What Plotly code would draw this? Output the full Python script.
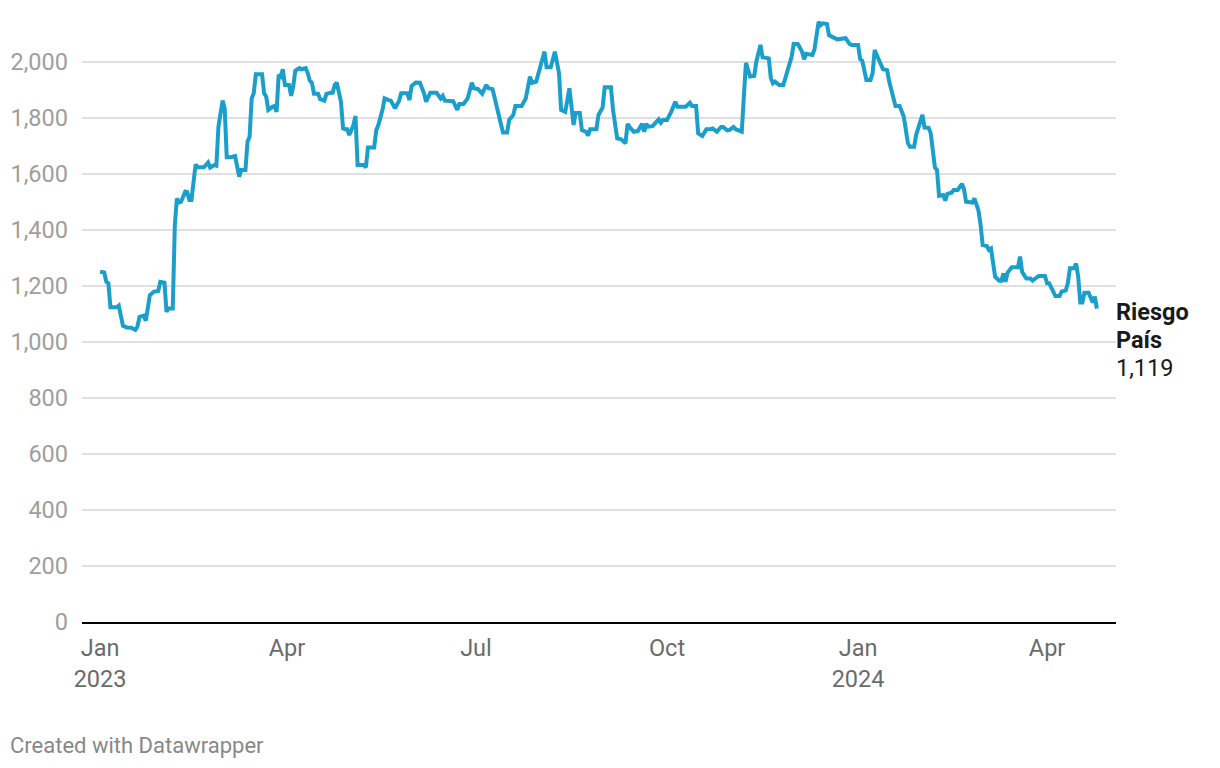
import pandas as pd
import plotly.graph_objects as go

# ---- data (days since 2023-01-01, index value) ----
start_date = "2023-01-01"
day_offsets = [
    0, 2, 3, 4, 5, 8, 9, 11, 13, 15, 17, 18, 19, 21, 22, 24, 26, 28, 29, 31,
    32, 33, 35, 36, 37, 38, 39, 41, 42, 43, 44, 46, 47, 50, 52, 53, 55, 56, 57, 59,
    60, 61, 63, 65, 67, 68, 70, 71, 72, 73, 74, 75, 78, 79, 80, 81, 83, 84, 85, 86,
    87, 88, 89, 91, 92, 93, 94, 96, 97, 99, 100, 101, 102, 103, 105, 106, 108, 109, 111, 112,
    113, 114, 116, 117, 118, 119, 120, 122, 123, 124, 127, 128, 129, 132, 133, 134, 136, 137, 139, 140,
    142, 144, 145, 148, 149, 150, 152, 154, 156, 157, 159, 162, 164, 165, 166, 170, 172, 173, 175, 177,
    179, 180, 182, 184, 186, 187, 189, 191, 193, 194, 196, 197, 199, 200, 203, 205, 207, 208, 210, 211,
    213, 214, 215, 217, 219, 221, 222, 224, 226, 228, 229, 231, 232, 234, 235, 236, 239, 240, 242, 243,
    246, 247, 249, 251, 253, 254, 255, 257, 259, 261, 262, 263, 264, 266, 269, 270, 271, 273, 275, 277,
    278, 282, 284, 285, 287, 288, 290, 292, 294, 295, 297, 299, 300, 302, 303, 305, 306, 309, 310, 311,
    313, 315, 316, 318, 319, 321, 322, 323, 324, 325, 327, 329, 330, 332, 333, 334, 336, 338, 339, 340,
    343, 344, 345, 346, 347, 348, 350, 351, 353, 355, 359, 361, 362, 365, 366, 367, 369, 371, 372, 373,
    374, 375, 377, 379, 380, 383, 385, 387, 389, 390, 392, 393, 394, 396, 397, 399, 400, 402, 403, 404,
    406, 407, 408, 410, 411, 413, 415, 416, 417, 420, 421, 422, 423, 424, 425, 427, 428, 429, 430, 431,
    433, 434, 435, 436, 437, 439, 442, 443, 444, 446, 448, 449, 452, 455, 456, 457, 459, 460, 462, 463,
    465, 466, 467, 469, 470, 471, 472, 473, 474, 476, 478, 479, 480,
]
riesgo_pais = [
    1251, 1248, 1215, 1210, 1124, 1124, 1130, 1058, 1052, 1051, 1043, 1055, 1090, 1094, 1076, 1168, 1180, 1182, 1215, 1212,
    1108, 1120, 1120, 1418, 1513, 1498, 1501, 1537, 1535, 1507, 1507, 1634, 1624, 1624, 1641, 1623, 1632, 1630, 1769, 1862,
    1835, 1660, 1660, 1664, 1591, 1614, 1614, 1715, 1733, 1870, 1888, 1956, 1956, 1888, 1876, 1829, 1840, 1843, 1822, 1954,
    1948, 1974, 1918, 1918, 1879, 1912, 1969, 1978, 1974, 1978, 1960, 1933, 1926, 1887, 1887, 1867, 1862, 1886, 1890, 1890,
    1918, 1926, 1858, 1763, 1760, 1760, 1739, 1775, 1807, 1632, 1632, 1624, 1695, 1695, 1757, 1775, 1829, 1870, 1864, 1862,
    1835, 1862, 1888, 1888, 1864, 1914, 1927, 1926, 1888, 1858, 1890, 1890, 1870, 1879, 1862, 1860, 1829, 1850, 1850, 1870,
    1926, 1906, 1903, 1887, 1918, 1906, 1903, 1846, 1775, 1748, 1748, 1793, 1811, 1843, 1843, 1870, 1948, 1926, 1930, 1960,
    2017, 2037, 1981, 1981, 2037, 1960, 1829, 1822, 1906, 1775, 1818, 1818, 1757, 1751, 1737, 1760, 1760, 1811, 1838, 1910,
    1910, 1829, 1727, 1724, 1710, 1779, 1768, 1751, 1754, 1779, 1751, 1779, 1769, 1771, 1795, 1783, 1793, 1793, 1822, 1858,
    1840, 1840, 1854, 1843, 1843, 1745, 1736, 1760, 1761, 1763, 1751, 1768, 1768, 1756, 1757, 1768, 1760, 1751, 1876, 1997,
    1948, 1950, 2001, 2061, 2017, 2013, 2013, 1942, 1924, 1930, 1918, 1918, 1942, 2001, 2019, 2064, 2064, 2037, 2010, 2029,
    2025, 2045, 2090, 2144, 2132, 2138, 2136, 2096, 2088, 2081, 2085, 2064, 2061, 2061, 2010, 2005, 1936, 1936, 1960, 2043,
    2025, 2010, 1974, 1971, 1930, 1843, 1843, 1805, 1710, 1697, 1697, 1741, 1767, 1811, 1766, 1765, 1745, 1623, 1615, 1522,
    1525, 1505, 1529, 1533, 1543, 1543, 1565, 1546, 1501, 1498, 1513, 1489, 1469, 1418, 1346, 1343, 1329, 1334, 1280, 1233,
    1219, 1219, 1245, 1215, 1248, 1267, 1267, 1305, 1251, 1227, 1227, 1219, 1236, 1236, 1210, 1210, 1180, 1164, 1164, 1180,
    1184, 1210, 1263, 1263, 1280, 1233, 1141, 1141, 1176, 1176, 1141, 1162, 1119,
]

x_tick_dates = ["2023-01-01", "2023-04-01", "2023-07-01", "2023-10-01", "2024-01-01", "2024-04-01"]
x_tick_labels = ["Jan<br>2023", "Apr", "Jul", "Oct", "Jan<br>2024", "Apr"]
y_tick_values = [0, 200, 400, 600, 800, 1000, 1200, 1400, 1600, 1800, 2000]

series_name_lines = ["Riesgo", "País"]
last_value_label = f"{riesgo_pais[-1]:,}"

# ---- figure ----
dates = pd.Timestamp(start_date) + pd.to_timedelta(day_offsets, unit="D")

W, H = 1220, 768
ML, MR, MT, MB = 82, 104, 6, 146
plot_w = W - ML - MR
plot_h = H - MT - MB
Y_MAX = 2200

def px_to_paper_y(py):
    return (H - MB - py) / plot_h

x_start = pd.Timestamp(start_date) + pd.Timedelta(days=-8.7)
x_end = pd.Timestamp(start_date) + pd.Timedelta(days=489.2)

fig = go.Figure()
fig.add_trace(go.Scatter(
    x=dates, y=riesgo_pais, mode="lines",
    line=dict(color="#1a9fcd", width=4),
    name=" ".join(series_name_lines), hoverinfo="x+y",
))

fig.update_layout(
    width=W, height=H,
    margin=dict(l=ML, r=MR, t=MT, b=MB, pad=0),
    plot_bgcolor="white", paper_bgcolor="white",
    showlegend=False,
    font=dict(family="Roboto, sans-serif"),
)
fig.update_xaxes(
    range=[x_start, x_end],
    tickvals=pd.to_datetime(x_tick_dates), ticktext=x_tick_labels,
    showgrid=False, zeroline=False,
    showline=True, linecolor="#000000", linewidth=2,
    ticks="", ticklabelstandoff=4,
    tickfont=dict(size=23.5, color="#6b6b6b", family="Roboto"),
)
fig.update_yaxes(
    range=[0, Y_MAX],
    tickvals=y_tick_values, tickformat=",",
    showgrid=True, gridcolor="#e0e0e0", gridwidth=1.5,
    zeroline=False, showline=False, ticks="",
    ticklabelstandoff=13,
    tickfont=dict(size=23.5, color="#9e9e9e", family="Roboto"),
)

# end label (three lines)
label_lines = [f"<b>{series_name_lines[0]}</b>", f"<b>{series_name_lines[1]}</b>", last_value_label]
label_px_y = [312, 340, 368]
for txt, py in zip(label_lines, label_px_y):
    fig.add_annotation(
        x=1, xref="paper", xanchor="left",
        y=px_to_paper_y(py), yref="paper", yanchor="middle",
        text=txt, showarrow=False, align="left",
        font=dict(size=23.5, color="#1a1a1a", family="Roboto"),
        xshift=-2,
    )

# footer
fig.add_annotation(
    x=(10 - ML) / plot_w, xref="paper", xanchor="left",
    y=px_to_paper_y(745), yref="paper", yanchor="middle",
    text="Created with Datawrapper", showarrow=False,
    font=dict(size=22, color="#888888", family="Roboto"),
    xshift=-2,
)

fig.write_html("out.html")
